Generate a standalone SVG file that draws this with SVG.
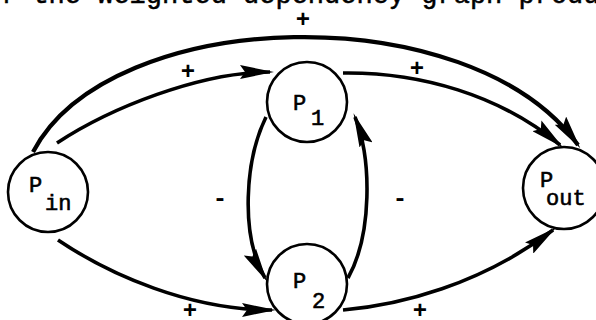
<svg xmlns="http://www.w3.org/2000/svg" width="596" height="320" viewBox="0 0 596 320">
<style>
.node{fill:#fff;stroke:#000;stroke-width:2.6}
.lbl{font-family:"Liberation Mono","Courier New",monospace;font-size:22px;fill:#000;stroke:#000;stroke-width:0.6}
.sign{font-family:"Liberation Mono","Courier New",monospace;font-size:24px;font-weight:bold;fill:#000;text-anchor:middle;dominant-baseline:central}
.edge{fill:none;stroke:#000;stroke-width:3.6;marker-end:url(#ah)}
.cap{font-family:"Liberation Mono","Courier New",monospace;font-size:27px;fill:#000;stroke:#000;stroke-width:0.5}
</style>
<defs>
<marker id="ah" markerUnits="userSpaceOnUse" markerWidth="34" markerHeight="14" refX="30" refY="7" orient="auto">
<path d="M0,0 L34,7 L0,14 L5,7 Z" fill="#000"/>
</marker>
</defs>
<rect width="596" height="320" fill="#fff"/>
<text class="cap" x="0" y="3">f the weighted dependency graph produ</text>
<g id="connectors">
<path class="edge" style="stroke-width:4.2" d="M33,152 C110,5 470,-5 578,145"/>
<path class="edge" d="M57,143 C110,108 200,72 270,72"/>
<path class="edge" d="M343,73 C420,72 500,95 560,145"/>
<path class="edge" d="M58,240 C110,275 190,310 272,310"/>
<path class="edge" d="M343,310 C400,305 480,285 553,230"/>
<path class="edge" d="M266,117 C245,160 240,235 265,278"/>
<path class="edge" d="M348,278 C372,235 372,160 355,117"/>
<text class="sign" x="303" y="20">+</text>
<text class="sign" x="188" y="72">+</text>
<text class="sign" x="417" y="69">+</text>
<text class="sign" x="190" y="311">+</text>
<text class="sign" x="420" y="311">+</text>
<text class="sign" x="220" y="199">-</text>
<text class="sign" x="400" y="199">-</text>
</g>
<g id="Pin">
<circle class="node" cx="48" cy="192" r="40"/>
<text class="lbl" x="29" y="192">P</text>
<text class="lbl" x="45" y="210">in</text>
</g>
<g id="P1">
<circle class="node" cx="307" cy="102" r="40"/>
<text class="lbl" x="293" y="110">P</text>
<text class="lbl" x="311" y="125">1</text>
</g>
<g id="P2">
<circle class="node" cx="307" cy="284" r="40"/>
<text class="lbl" x="293" y="288">P</text>
<text class="lbl" x="312" y="308">2</text>
</g>
<g id="Pout">
<circle class="node" cx="564" cy="188" r="41"/>
<text class="lbl" x="540" y="187">P</text>
<text class="lbl" x="546" y="205">out</text>
</g>
</svg>
